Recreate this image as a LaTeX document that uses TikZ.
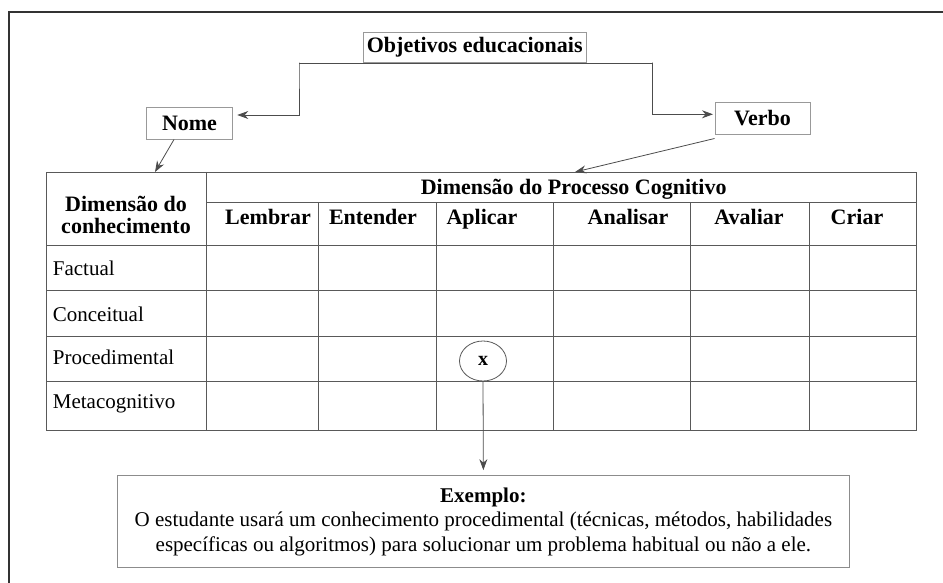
\documentclass[tikz,border=0pt]{standalone}
\usepackage{fontspec}
\setmainfont{Liberation Serif}
\usetikzlibrary{arrows.meta,shapes.geometric}
\newcommand\regf{\fontsize{21pt}{24.5pt}\selectfont}
\newcommand\bldf{\fontsize{22pt}{21.5pt}\selectfont\bfseries}
\begin{document}
\begin{tikzpicture}[x=1pt,y=-1pt,
  frame/.style={draw=black!80,line width=2.4pt,line join=miter},
  tline/.style={draw=black!65,line width=0.9pt},
  lbox/.style={draw=black!40,line width=0.9pt,fill=white,inner sep=0pt,font=\bldf},
  arr/.style={draw=black!70,line width=0.8pt,-{Stealth[length=11pt,width=8pt]}},
  hdr/.style={anchor=base,inner sep=0pt,font=\bldf},
  rowlab/.style={anchor=base west,inner sep=0pt,font=\regf}]
\useasboundingbox (0,0) rectangle (943,583);
% outer frame (cropped)
\draw[frame] (9,590) -- (9,12) -- (950,12);

% table
\draw[tline] (46,172) rectangle (916,430);
\draw[tline] (206,172) -- (206,430);
\draw[tline] (206,202.7) -- (916,202.7);
\draw[tline] (46,245.3) -- (916,245.3);
\foreach \cx in {318,436,553.7,690,809} \draw[tline] (\cx,202.7) -- (\cx,430);
\foreach \ry in {290.7,336,381.7} \draw[tline] (46,\ry) -- (916,\ry);

% header texts
\node[align=center,inner sep=0pt,font=\bldf] (dimc) at (126,215) {Dimensão do\\conhecimento};
\node[hdr] (dimp) at (573.7,195) {Dimensão do Processo Cognitivo};
\node[hdr] (lem) at (268,225) {Lembrar};
\node[hdr] (ent) at (373,225) {Entender};
\node[hdr] (apl) at (482,225) {Aplicar};
\node[hdr] (ana) at (628,225) {Analisar};
\node[hdr] (ava) at (749,225) {Avaliar};
\node[hdr] (cri) at (857,225) {Criar};

% row labels
\node[rowlab] (fac) at (52.7,275.7) {Factual};
\node[rowlab] (con) at (52.7,321) {Conceitual};
\node[rowlab] (pro) at (52.7,364.5) {Procedimental};
\node[rowlab] (met) at (52.7,408.3) {Metacognitivo};

% top boxes
\node[lbox,minimum width=222.7,minimum height=30.4] (obj) at (474.7,47.5) {Objetivos educacionais};
\node[lbox,minimum width=85.6,minimum height=31.3] (nome) at (189.5,123.4) {Nome};
\node[lbox,minimum width=95,minimum height=31.7] (verbo) at (762.5,118.2) {Verbo};

% connectors from Objetivos
\coordinate (jl) at (299,62.7);
\coordinate (jr) at (652.3,62.7);
\coordinate (ntip) at (237.3,115);
\coordinate (vtip) at (713,114.3);
\draw[arr] (obj.south) -| (jl) |- (ntip);
\draw[arr] (obj.south) -| (jr) |- (vtip);

% arrows to table
\coordinate (ntab) at (155,172);
\coordinate (vtab) at (575,172);
\draw[arr] ([xshift=-15.5pt]nome.south) -- (ntab);
\draw[arr] ([yshift=-4pt]verbo.south west) -- (vtab);

% marked cell
\node[ellipse,draw=black!65,line width=0.8pt,fill=white,minimum width=47,minimum height=40,inner sep=0pt,font=\fontsize{20pt}{20pt}\selectfont\bfseries] (xm) at (483,361) {x};

% example box
\node[draw=black!45,line width=1pt,fill=white,minimum width=731.3,minimum height=91.7,inner sep=0pt,align=center,font=\regf] (ex) at (483.4,521.5)
  {{\bfseries Exemplo:}\\
   O estudante usará um conhecimento procedimental (técnicas, métodos, habilidades\\
   específicas ou algoritmos) para solucionar um problema habitual ou não a ele.};
\draw[arr,shorten >=5pt] (xm.south) -- (ex.north);
\end{tikzpicture}
\end{document}
